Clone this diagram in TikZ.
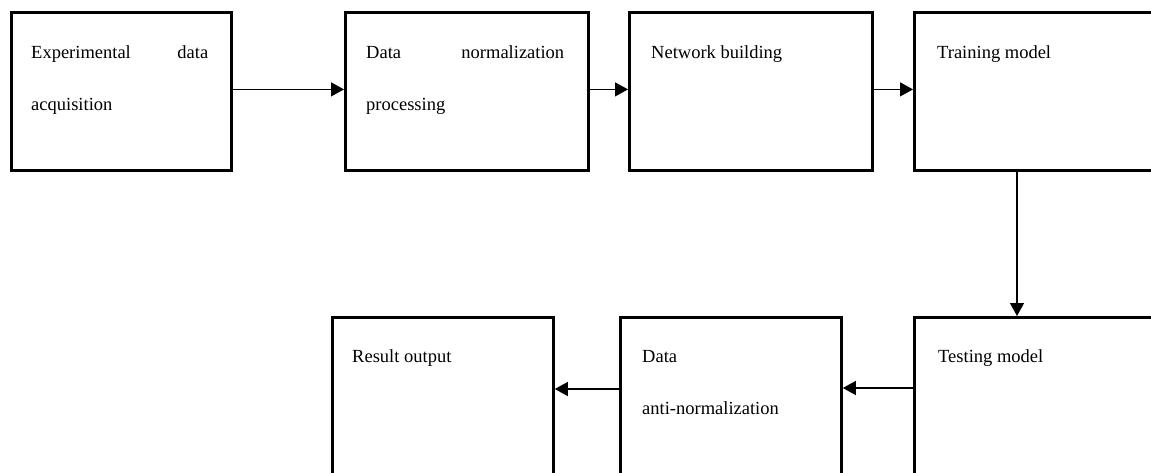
\documentclass[tikz,border=0pt]{standalone}
\usepackage{fontspec}
\setmainfont{Liberation Serif}
\usetikzlibrary{arrows.meta,calc}
\tikzset{
  box/.style={draw=black, line width=2.8pt, rectangle, inner sep=0pt, anchor=north west},
  lbl/.style={anchor=base west, inner sep=0pt, align=left, font=\fontsize{18.5}{52}\selectfont},
  flow/.style={line width=1.3pt, -{Triangle[length=13pt,width=14pt]}}
}
\begin{document}
\begin{tikzpicture}[x=1pt,y=-1pt]
\useasboundingbox (0,0) rectangle (1151,472);
\clip (0,0) rectangle (1151,472);
% top row
\node[box, minimum width=220pt, minimum height=158pt] (b1) at (10,11) {};
\node[box, minimum width=243pt, minimum height=158pt] (b2) at (344,11) {};
\node[box, minimum width=243pt, minimum height=158pt] (b3) at (628,11) {};
\node[box, minimum width=270pt, minimum height=158pt] (b4) at (913,11) {};
% bottom row
\node[box, minimum width=270pt, minimum height=190pt] (b7) at (913,316) {};
\node[box, minimum width=221pt, minimum height=190pt] (b6) at (619,316) {};
\node[box, minimum width=221pt, minimum height=190pt] (b5) at (331,316) {};
% labels (base anchor of a two-line node is the baseline of its last line)
\node[lbl] (t1) at (31,110) {\makebox[177pt][s]{Experimental data}\\acquisition};
\node[lbl] (t2) at (366,110) {\makebox[198pt][s]{Data normalization}\\processing};
\node[lbl] (t3) at (651,58) {Network building};
\node[lbl] (t4) at (937,58) {Training model};
\node[lbl] (t7) at (938,362) {Testing model};
\node[lbl] (t6) at (642,414) {Data\\anti-normalization};
\node[lbl] (t5) at (352,362) {Result output};
% connectors
\draw[flow] ([yshift=2pt]b1.east) -- ([yshift=2pt]b2.west);
\draw[flow] ([yshift=2pt]b2.east) -- ([yshift=2pt]b3.west);
\draw[flow] ([yshift=2pt]b3.east) -- ([yshift=2pt]b4.west);
\draw[flow] ([xshift=104pt]b4.south west) -- ([xshift=104pt]b7.north west);
\draw[flow] ([yshift=-72pt]b7.north west) -- ([yshift=-72pt]b6.north east);
\draw[flow] ([yshift=-73pt]b6.north west) -- ([yshift=-73pt]b5.north east);
\end{tikzpicture}
\end{document}
